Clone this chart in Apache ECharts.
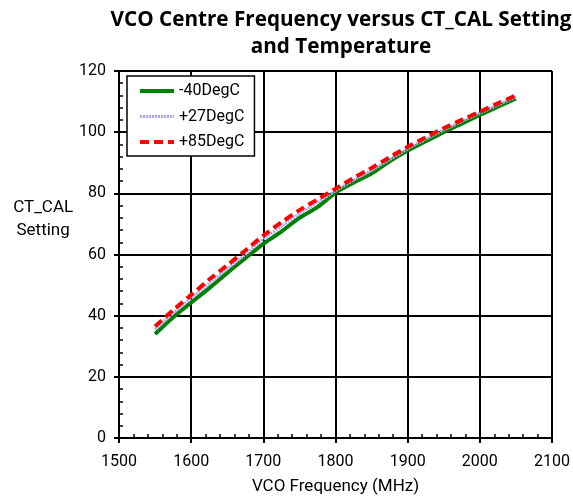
<!DOCTYPE html>
<html>
<head>
<meta charset="utf-8">
<script src="https://cdn.jsdelivr.net/npm/echarts@6/dist/echarts.min.js"></script>
<style>html,body{margin:0;padding:0;background:#fff;}#c{width:573px;height:498px;}</style>
</head>
<body>
<div id="c"></div>
<script>
const freq = [1550,1575,1600,1625,1650,1675,1700,1725,1750,1775,1800,1825,1850,1875,1900,1925,1950,1975,2000,2025,2050];
const ctM40 = [34,39.5,44.3,49,54,58.8,63.5,67.5,72,75.5,80.2,83.5,86.5,90.5,94,97,100,102.8,105.6,108.3,111];
const ctP27 = [35.5,40.8,45.7,50.5,55.3,60,65,69.2,73.3,77,80.8,84.3,87.5,91,94.5,97.7,100.7,103.5,106.2,108.9,111.5];
const ctP85 = [36.5,41.8,46.8,51.8,56.5,61.3,66.2,70.5,74.5,78,81.5,85,88.3,91.8,95.2,98.3,101.3,104,106.7,109.4,112];
const seriesNames = ['-40DegC','+27DegC','+85DegC'];
const titleText = 'VCO Centre Frequency versus CT_CAL Setting\nand Temperature';
const xName = 'VCO Frequency (MHz)';
const yName = 'CT_CAL\nSetting';

const FONT = 'Roboto';
const pair = (xs, ys) => xs.map((x, i) => [x, ys[i]]);
const chart = echarts.init(document.getElementById('c'), null, {renderer: 'canvas'});
const axisLbl = {color: '#000', fontFamily: FONT, fontSize: 16, formatter: v => String(v)};
const styles = [
  {color: '#008000', width: 4, type: 'solid'},
  {color: '#a8a8f0', width: 3, type: [2, 1]},
  {color: '#ff0000', width: 4, type: [9, 5]}
];
chart.setOption({
  animation: false,
  backgroundColor: '#fff',
  title: {
    text: titleText, left: 336, textAlign: 'center', top: 2,
    textStyle: {fontFamily: 'Open Sans', fontWeight: 'bold', fontSize: 20.7, lineHeight: 27, color: '#000'}
  },
  grid: {left: 119, right: 21, top: 71, bottom: 60, outerBoundsMode: 'none', containLabel: false},
  legend: {
    orient: 'vertical', left: 127, top: 76,
    backgroundColor: '#fff', borderColor: '#000', borderWidth: 1.5,
    padding: [7, 10, 6, 11], itemWidth: 34, itemHeight: 14, itemGap: 9.5,
    itemStyle: {opacity: 0},
    textStyle: {fontFamily: FONT, fontSize: 16, color: '#000'},
    data: seriesNames.map((n, i) => ({name: n, lineStyle: {width: styles[i].width, type: styles[i].type, color: styles[i].color}}))
  },
  xAxis: [{
    type: 'value', min: 1500, max: 2100, interval: 100, position: 'bottom',
    name: xName, nameLocation: 'middle', nameGap: 40,
    nameTextStyle: {fontFamily: FONT, fontSize: 17, color: '#000'},
    axisLine: {lineStyle: {color: '#000', width: 2}},
    axisTick: {show: true, length: 5, lineStyle: {color: '#000', width: 2}},
    axisLabel: Object.assign({margin: 16}, axisLbl),
    splitLine: {show: true, lineStyle: {color: '#000', width: 2}}
  }, {
    type: 'value', min: 1500, max: 2100, interval: 100, position: 'bottom', offset: 0,
    axisLine: {show: false},
    axisTick: {show: true, inside: true, length: 5, lineStyle: {color: '#000', width: 2}},
    minorTick: {show: true, splitNumber: 5, length: 4, lineStyle: {color: '#000', width: 1.5}},
    axisLabel: {show: false}, splitLine: {show: false}
  }],
  yAxis: [{
    type: 'value', min: 0, max: 120, interval: 20, position: 'left',
    name: yName, nameLocation: 'middle', nameGap: 75, nameRotate: 0,
    nameTextStyle: {fontFamily: FONT, fontSize: 17, color: '#000', align: 'center', verticalAlign: 'bottom', lineHeight: 23, padding: [0, 0, 12, 0]},
    axisLine: {lineStyle: {color: '#000', width: 2}},
    axisTick: {show: true, length: 5, lineStyle: {color: '#000', width: 2}},
    axisLabel: Object.assign({margin: 13}, axisLbl),
    splitLine: {show: true, lineStyle: {color: '#000', width: 2}}
  }, {
    type: 'value', min: 0, max: 120, interval: 20, position: 'left', offset: 0,
    axisLine: {show: false},
    axisTick: {show: true, inside: true, length: 5, lineStyle: {color: '#000', width: 2}},
    minorTick: {show: true, splitNumber: 5, length: 4, lineStyle: {color: '#000', width: 1.5}},
    axisLabel: {show: false}, splitLine: {show: false}
  }],
  series: [ctM40, ctP27, ctP85].map((vals, i) => ({
    name: seriesNames[i], type: 'line', data: pair(freq, vals), smooth: 0.3,
    showSymbol: false, symbol: 'none',
    lineStyle: {color: styles[i].color, width: styles[i].width, type: styles[i].type},
    itemStyle: {color: styles[i].color}, z: 3 + i
  }))
});
</script>
</body>
</html>
